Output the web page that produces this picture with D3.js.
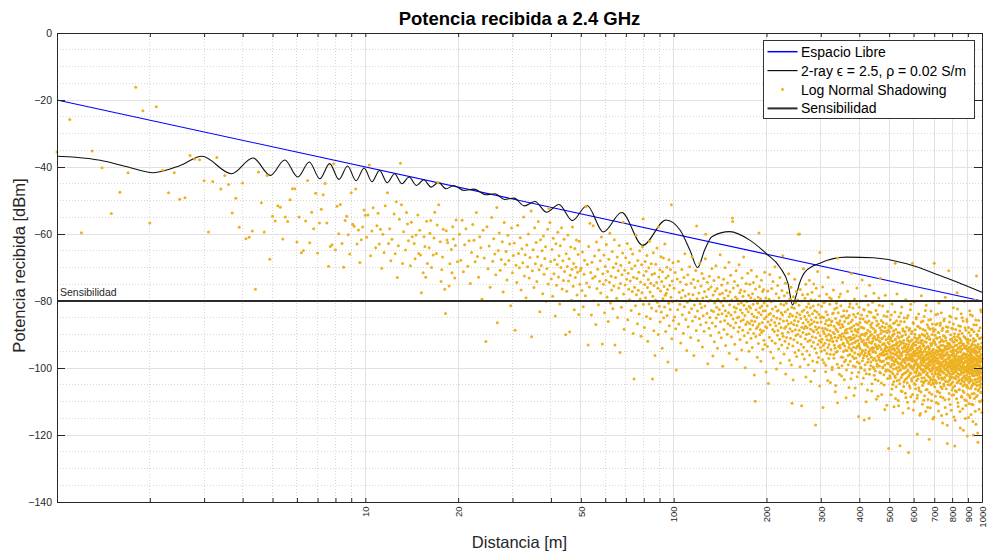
<!DOCTYPE html>
<html>
<head>
<meta charset="utf-8">
<script src="https://cdn.jsdelivr.net/npm/d3@7"></script>
<style>
  body { margin: 0; background: #fff; }
  svg { display: block; }
  text { font-family: "Liberation Sans", Arial, Helvetica, sans-serif; }
</style>
</head>
<body>
<div id="chart"></div>
<script>
// ---- data (distance in m, received power in dBm) ----
const xTickValues = [10, 20, 50, 100, 200, 300, 400, 500, 600, 700, 800, 900, 1000];
const yTickValues = [0, -20, -40, -60, -80, -100, -120, -140];

const freeSpace = [[1, -20], [1000, -80]];
const sensitivityDb = -80;

// 2-ray curve, peaks and troughs
const twoRay = [[1,-36.8],[1.15,-37.1],[1.38,-38.0],[1.7,-40.0],[2.05,-41.7],[2.5,-39.6],[2.95,-36.8],[3.68,-42.0],[4.32,-37.3],[4.92,-42.5],
  [5.48,-37.9],[6.04,-43.0],[6.58,-38.5],[7.12,-43.5],[7.66,-39.0],[8.21,-43.7],[8.76,-39.7],[9.33,-44.1],[9.91,-40.3],[10.51,-44.4],
  [11.12,-41.0],[11.77,-44.7],[12.44,-42.0],[13.14,-45.0],[13.87,-43.0],[14.65,-45.5],[15.47,-43.8],[16.34,-46.0],[17.27,-44.6],[18.27,-46.5],
  [19.35,-45.5],[20.9,-47.0],[22.5,-46.6],[24.68,-48.3],[26.37,-48.0],[28.25,-49.7],[30.36,-49.3],[32.76,-51.6],[35.51,-50.3],[38.7,-53.5],
  [42.45,-51.2],[46.92,-56.0],[52.37,-51.5],[59.14,-59.4],[67.82,-53.6],[79.36,-63.4],[94.5,-55.8],[105,-58.9],[113,-64.9],[119.6,-70.0],
  [126,-64.8],[133,-60.8],[152,-59.3],[177,-61.9],[200,-65.9],[221,-69.9],[235,-74.8],[243,-81.2],[250.7,-77.7],[256,-74.7],
  [267,-71.3],[298,-68.7],[364,-66.9],[444,-67.1],[570,-68.9],[731,-72.4],[1000,-77.4]];

// log normal shadowing samples, by distance band
const shadow1to10 = [[1.0,-35.5],[1.1,-25.8],[1.2,-59.6],[1.3,-35.2],[1.4,-40.2],[1.5,-53.9],[1.6,-47.5],[1.7,-41.7],[1.8,-16.2],[1.9,-23.2],
  [2.0,-56.7],[2.1,-22.0],[2.2,-41.0],[2.3,-47.7],[2.4,-41.7],[2.5,-49.6],[2.6,-49.2],[2.7,-36.6],[2.8,-37.6],[2.9,-37.8],
  [3.0,-44.1],[3.1,-59.4],[3.2,-44.3],[3.3,-37.2],[3.4,-46.6],[3.5,-42.5],[3.6,-45.2],[3.7,-53.7],[3.8,-49.3],[3.9,-58.0],
  [4.0,-44.8],[4.1,-61.4],[4.2,-61.0],[4.3,-59.1],[4.4,-76.5],[4.5,-41.5],[4.6,-50.7],[4.7,-59.4],[4.8,-42.5],[4.9,-67.5],
  [5.0,-54.7],[5.1,-56.1],[5.2,-51.6],[5.3,-52.0],[5.4,-61.5],[5.5,-54.9],[5.6,-56.3],[5.7,-49.8],[5.8,-46.5],[5.9,-46.5],
  [6.0,-62.4],[6.1,-54.9],[6.2,-65.6],[6.3,-64.9],[6.4,-56.1],[6.5,-44.0],[6.6,-62.6],[6.7,-53.5],[6.8,-58.4],[6.9,-47.8],
  [7.0,-65.7],[7.1,-56.7],[7.2,-52.6],[7.3,-48.3],[7.4,-44.9],[7.5,-56.7],[7.6,-69.6],[7.7,-63.7],[7.8,-63.2],[7.9,-39.0],
  [8.0,-64.7],[8.1,-51.7],[8.2,-59.9],[8.3,-51.2],[8.4,-62.8],[8.5,-69.9],[8.6,-56.0],[8.7,-54.7],[8.8,-60.2],[8.9,-66.0],
  [9.0,-47.7],[9.1,-57.1],[9.2,-57.7],[9.3,-46.6],[9.4,-63.0],[9.5,-58.8],[9.6,-68.5],[9.7,-61.7],[9.8,-57.9],[9.9,-52.8]];

const shadow10to20 = [[10.0,-54.4],[10.1,-61.0],[10.2,-54.3],[10.3,-39.4],[10.4,-66.5],[10.5,-59.1],[10.6,-52.2],[10.8,-64.1],[10.9,-57.5],[11.0,-53.8],
  [11.1,-63.0],[11.2,-58.6],[11.3,-70.2],[11.4,-60.1],[11.5,-65.5],[11.6,-51.6],[11.8,-47.7],[11.9,-62.8],[12.0,-58.4],[12.1,-68.0],
  [12.2,-61.6],[12.4,-54.0],[12.5,-65.9],[12.6,-50.4],[12.7,-73.0],[12.8,-63.5],[12.9,-55.6],[13.0,-38.9],[13.1,-51.3],[13.2,-68.8],
  [13.3,-59.3],[13.5,-64.8],[13.6,-53.6],[13.7,-57.0],[13.8,-62.0],[14.0,-69.5],[14.1,-56.5],[14.2,-60.8],[14.4,-62.8],[14.5,-67.4],
  [14.6,-60.3],[14.8,-54.3],[14.9,-65.8],[15.0,-58.9],[15.1,-66.3],[15.2,-77.5],[15.4,-71.6],[15.5,-60.8],[15.6,-63.7],[15.7,-72.9],
  [15.8,-56.2],[15.9,-68.8],[16.1,-64.1],[16.2,-59.8],[16.3,-56.0],[16.4,-70.0],[16.6,-66.3],[16.7,-61.2],[16.8,-53.5],[17.0,-65.8],
  [17.1,-57.3],[17.2,-44.6],[17.3,-51.3],[17.5,-62.3],[17.6,-74.2],[17.7,-70.7],[17.8,-66.9],[17.9,-58.6],[18.1,-76.5],[18.2,-83.7],
  [18.3,-59.0],[18.4,-61.8],[18.5,-62.6],[18.7,-75.5],[18.8,-68.9],[19.0,-64.6],[19.1,-71.6],[19.2,-57.8],[19.3,-61.5],[19.5,-73.1],
  [19.6,-63.4],[19.7,-55.8],[19.9,-68.3]];

const shadow20to50 = [[20.2,-60.1],[20.4,-67.8],[20.6,-55.9],[20.8,-71.3],[21.0,-63.2],[21.2,-58.4],[21.5,-69.6],[21.7,-62.0],[21.9,-74.8],[22.1,-65.5],
  [22.3,-57.2],[22.5,-61.9],[22.7,-68.3],[22.9,-53.6],[23.1,-66.7],[23.3,-72.9],[23.5,-60.8],[23.7,-64.1],[23.9,-79.5],[24.1,-58.9],
  [24.3,-67.2],[24.6,-92.1],[24.8,-57.8],[25.0,-70.4],[25.2,-63.6],[25.4,-75.9],[25.7,-55.1],[25.9,-68.1],[26.1,-61.4],[26.3,-66.0],
  [26.5,-72.2],[26.7,-52.1],[26.8,-86.5],[27.0,-64.9],[27.2,-59.7],[27.4,-70.8],[27.6,-67.6],[27.8,-62.3],[28.0,-77.3],[28.2,-56.6],
  [28.4,-69.0],[28.6,-65.2],[28.8,-73.7],[29.0,-60.4],[29.2,-67.9],[29.4,-63.0],[29.6,-81.4],[29.8,-58.2],[30.0,-71.6],[30.2,-66.4],
  [30.4,-62.7],[30.6,-88.7],[30.8,-69.3],[31.0,-74.5],[31.2,-57.4],[31.4,-65.8],[31.6,-70.1],[31.8,-61.1],[32.0,-76.7],[32.2,-64.4],
  [32.4,-68.6],[32.6,-54.9],[32.8,-72.5],[33.0,-66.2],[33.2,-79.0],[33.4,-63.3],[33.6,-69.8],[33.8,-60.0],[34.0,-73.1],[34.2,-67.0],
  [34.5,-53.1],[34.6,-90.7],[34.8,-71.0],[35.0,-64.7],[35.2,-76.0],[35.4,-58.1],[35.6,-68.9],[35.8,-62.5],[36.0,-74.2],[36.2,-66.8],
  [36.4,-56.3],[36.6,-70.7],[36.8,-83.2],[37.0,-61.7],[37.2,-69.4],[37.4,-65.0],[37.6,-77.8],[37.8,-60.6],[38.0,-72.0],[38.2,-67.3],
  [38.4,-63.8],[38.6,-80.1],[38.8,-70.3],[39.0,-58.6],[39.2,-74.9],[39.4,-52.3],[39.7,-56.6],[39.9,-68.2],[40.1,-73.4],[40.3,-64.6],
  [40.5,-78.6],[40.7,-61.3],[40.9,-71.9],[41.1,-67.7],[41.3,-84.5],[41.5,-62.9],[41.7,-75.3],[41.9,-69.1],[42.1,-59.5],[42.3,-72.8],
  [42.5,-66.5],[42.7,-80.9],[42.9,-63.5],[43.1,-70.0],[43.3,-58.1],[43.5,-76.4],[43.7,-68.0],[43.9,-73.9],[44.1,-61.6],[44.3,-71.2],
  [44.6,-90.1],[44.8,-65.9],[45.0,-77.1],[45.2,-69.7],[45.4,-60.3],[45.6,-74.0],[45.8,-67.4],[46.0,-89.2],[46.2,-72.3],[46.4,-63.9],
  [46.6,-79.8],[46.8,-70.5],[47.0,-57.9],[47.2,-75.6],[47.4,-68.8],[47.6,-82.6],[47.8,-64.3],[48.0,-73.0],[48.2,-69.9],[48.4,-61.8],
  [48.6,-78.2],[48.8,-71.4],[49.0,-66.1],[49.2,-84.0],[49.4,-62.2],[49.6,-75.0],[49.8,-70.9]];

const shadow50to100 = [[50.1,-70.2],[50.4,-76.9],[50.6,-65.4],[50.9,-81.7],[51.2,-72.0],[51.4,-67.8],[51.7,-78.4],[52.0,-51.8],[52.2,-74.6],[52.5,-69.1],
  [52.8,-93.1],[53.0,-63.7],[53.3,-75.8],[53.5,-56.8],[53.8,-71.5],[54.1,-84.2],[54.3,-68.4],[54.6,-73.2],[54.8,-57.5],[55.1,-79.9],
  [55.4,-66.6],[55.6,-72.7],[55.9,-87.0],[56.2,-62.4],[56.4,-76.3],[56.7,-70.5],[57.0,-81.1],[57.2,-64.8],[57.5,-74.1],[57.8,-68.0],
  [58.0,-77.6],[58.3,-60.9],[58.7,-92.8],[58.9,-71.9],[59.2,-75.0],[59.4,-66.3],[59.7,-83.5],[60.0,-69.7],[60.3,-73.8],[60.5,-63.1],
  [60.8,-78.8],[61.1,-71.2],[61.3,-86.1],[61.6,-67.5],[61.9,-74.4],[62.1,-59.8],[62.4,-80.6],[62.7,-72.6],[62.9,-76.7],[63.2,-65.2],
  [63.5,-82.3],[63.7,-70.0],[64.0,-75.5],[64.2,-61.7],[64.5,-93.1],[64.8,-73.0],[65.0,-68.8],[65.3,-79.2],[65.6,-66.9],[65.8,-84.9],
  [66.1,-71.0],[66.4,-76.1],[66.6,-63.4],[67.0,-95.4],[67.2,-74.8],[67.4,-69.3],[67.7,-81.9],[68.0,-72.2],[68.3,-65.7],[68.6,-56.5],
  [68.8,-77.9],[69.1,-88.4],[69.4,-70.8],[69.6,-75.2],[69.9,-67.1],[70.2,-80.0],[70.4,-73.5],[70.7,-62.8],[71.0,-85.6],[71.2,-71.7],
  [71.5,-76.5],[71.8,-68.5],[72.0,-79.6],[72.3,-74.0],[72.6,-64.5],[72.8,-82.8],[73.1,-70.4],[73.4,-77.2],[73.6,-66.0],[73.9,-89.7],
  [74.1,-72.9],[74.4,-103.3],[74.7,-75.9],[74.9,-69.5],[75.2,-81.4],[75.5,-60.4],[75.7,-78.1],[76.0,-73.3],[76.3,-86.8],[76.5,-67.9],
  [76.8,-76.8],[77.1,-71.4],[77.3,-83.9],[77.6,-65.0],[77.9,-79.4],[78.1,-74.3],[78.4,-90.5],[78.7,-69.2],[78.9,-77.5],[79.2,-63.9],
  [79.6,-55.5],[79.8,-81.0],[80.0,-72.4],[80.3,-87.9],[80.6,-75.1],[80.8,-68.2],[81.1,-79.0],[81.4,-71.1],[81.6,-84.6],[81.9,-66.4],
  [82.2,-76.0],[82.4,-92.0],[82.7,-73.6],[83.0,-70.1],[83.2,-80.9],[83.5,-62.2],[83.8,-77.3],[84.0,-85.3],[84.3,-74.7],[84.6,-68.9],
  [84.8,-82.1],[85.1,-72.1],[85.4,-103.3],[85.6,-78.6],[85.9,-65.6],[86.2,-88.9],[86.4,-75.4],[86.7,-71.8],[87.0,-96.3],[87.3,-79.7],
  [87.5,-69.0],[87.8,-83.0],[88.1,-74.5],[88.3,-64.2],[88.6,-80.4],[88.9,-76.2],[89.1,-90.0],[89.3,-57.8],[89.6,-72.8],[89.9,-81.6],
  [90.2,-70.7],[90.4,-86.2],[90.7,-77.0],[91.0,-66.8],[91.2,-83.3],[91.5,-74.2],[91.8,-94.1],[92.0,-71.3],[92.3,-79.3],[92.6,-67.2],
  [92.8,-85.0],[93.1,-75.7],[93.4,-81.8],[93.6,-63.0],[93.9,-78.3],[94.2,-89.1],[94.4,-73.1],[94.7,-77.7],[95.0,-69.9],[95.2,-84.3],
  [95.5,-76.6],[95.8,-98.2],[96.0,-72.5],[96.3,-80.7],[96.6,-67.7],[96.8,-87.4],[97.1,-75.3],[97.4,-82.5],[97.6,-70.6],[98.0,-78.9],
  [98.3,-51.3],[98.6,-91.3],[98.9,-74.0],[99.2,-80.2],[99.5,-68.6],[99.8,-85.8]];

const shadow100to200 = [[100.3,-76.2],[100.7,-84.8],[101.1,-71.5],[101.5,-88.3],[102.0,-100.6],[102.3,-79.9],[102.7,-73.4],[103.1,-82.6],[103.5,-68.1],[103.9,-86.9],
  [104.3,-77.4],[104.7,-81.0],[105.1,-74.3],[105.5,-92.5],[105.9,-79.0],[106.3,-70.6],[106.7,-84.1],[107.1,-76.8],[107.5,-89.6],[107.9,-73.0],
  [108.3,-81.7],[108.7,-65.9],[109.1,-78.5],[109.5,-85.5],[109.9,-75.1],[110.3,-94.8],[110.7,-80.4],[111.1,-72.2],[111.5,-87.7],[111.9,-77.9],
  [112.3,-83.4],[112.7,-69.8],[113.1,-79.6],[113.5,-90.9],[113.9,-74.7],[114.3,-82.3],[114.7,-66.8],[115.1,-86.0],[115.5,-78.1],[115.9,-73.6],
  [116.3,-96.3],[116.7,-81.2],[117.1,-76.0],[117.5,-84.7],[117.9,-70.9],[118.3,-88.8],[118.7,-57.6],[119.1,-79.3],[119.5,-83.0],[119.9,-74.0],
  [120.3,-91.8],[120.7,-77.6],[121.1,-85.2],[121.5,-68.7],[121.9,-80.8],[122.3,-87.1],[122.7,-75.5],[123.1,-82.0],[123.5,-71.8],[123.9,-93.7],
  [124.3,-79.1],[124.7,-84.4],[125.1,-73.3],[125.5,-89.0],[125.9,-77.2],[126.3,-81.5],[126.7,-67.4],[127.0,-60.1],[127.4,-86.4],[127.8,-78.7],
  [128.2,-83.7],[128.6,-74.4],[129.0,-98.7],[129.4,-80.1],[129.8,-76.5],[130.2,-88.1],[130.6,-72.6],[131.0,-84.9],[131.4,-79.8],[131.8,-90.3],
  [132.2,-75.8],[132.6,-82.8],[133.0,-70.3],[133.4,-86.6],[134.0,-96.4],[134.3,-78.2],[134.7,-83.1],[135.1,-73.9],[135.5,-92.2],[135.9,-80.6],
  [136.3,-77.0],[136.7,-87.5],[137.1,-69.5],[137.5,-85.1],[137.9,-81.9],[138.3,-76.3],[138.7,-94.1],[139.1,-79.5],[139.5,-84.0],[139.9,-72.9],
  [140.3,-89.4],[140.7,-82.5],[141.1,-78.0],[141.5,-66.2],[141.9,-86.2],[142.3,-80.3],[142.7,-91.0],[143.1,-75.2],[143.5,-83.8],[143.9,-77.7],
  [144.3,-99.5],[144.7,-81.4],[145.1,-73.5],[145.5,-88.5],[145.9,-79.2],[146.3,-85.8],[146.7,-70.1],[147.1,-82.9],[147.5,-93.3],[147.9,-76.9],
  [148.3,-84.5],[148.7,-80.0],[149.1,-89.9],[149.5,-74.6],[149.9,-86.8],[150.3,-78.4],[150.7,-83.5],[151.1,-68.4],[151.5,-95.6],[151.9,-81.1],
  [152.3,-77.3],[152.7,-87.3],[153.1,-72.3],[153.5,-84.2],[153.9,-90.7],[154.3,-79.7],[155.0,-55.2],[155.4,-56.3],[155.8,-85.4],[156.2,-76.1],
  [156.6,-88.0],[157.0,-81.8],[157.4,-74.2],[157.8,-92.9],[158.2,-83.3],[158.6,-78.8],[159.0,-86.5],[159.4,-71.0],[159.8,-82.2],[160.2,-97.4],
  [160.6,-79.4],[161.0,-85.0],[161.4,-75.4],[161.8,-89.2],[162.2,-80.9],[162.6,-84.8],[163.0,-69.2],[163.4,-87.8],[163.8,-77.5],[164.2,-91.5],
  [164.6,-82.7],[165.0,-76.7],[165.4,-86.0],[165.8,-80.5],[166.2,-94.6],[166.6,-73.1],[167.0,-83.6],[167.4,-88.7],[167.8,-78.6],[168.2,-85.6],
  [168.6,-66.9],[169.0,-81.3],[169.4,-90.4],[169.8,-77.1],[170.2,-84.3],[170.6,-99.9],[171.0,-79.9],[171.4,-87.0],[171.8,-74.8],[172.2,-82.4],
  [172.6,-92.4],[173.0,-80.2],[173.4,-86.3],[173.8,-71.7],[174.2,-89.5],[174.6,-83.2],[175.0,-78.3],[175.4,-95.0],[175.8,-81.6],[176.2,-86.7],
  [176.6,-75.0],[177.0,-88.4],[177.4,-82.1],[177.8,-79.0],[178.2,-91.1],[178.6,-70.8],[179.0,-85.9],[179.4,-83.9],[179.8,-93.9],[180.2,-77.8],
  [180.6,-87.2],[181.0,-81.0],[181.4,-74.5],[181.8,-89.7],[182.2,-84.6],[182.6,-102.1],[183.0,-79.6],[183.4,-86.1],[184.0,-109.9],[184.3,-76.4],
  [184.7,-90.6],[185.1,-82.6],[185.5,-88.2],[185.9,-72.7],[186.3,-84.9],[186.7,-96.8],[187.1,-80.7],[187.5,-87.6],[187.9,-78.9],[188.3,-92.7],
  [188.7,-83.4],[189.0,-59.7],[189.4,-86.9],[189.8,-75.7],[190.2,-90.1],[190.6,-82.0],[191.0,-88.6],[191.4,-79.4],[191.8,-98.0],[192.2,-84.1],
  [192.6,-73.8],[193.0,-89.3],[193.4,-81.5],[193.8,-86.4],[194.2,-77.2],[194.6,-94.4],[195.0,-83.0],[195.4,-88.9],[195.8,-76.6],[196.2,-91.7],
  [196.6,-80.6],[197.0,-85.3],[197.4,-71.4],[197.8,-93.0],[198.2,-82.9],[198.6,-87.7],[199.0,-79.1],[199.4,-101.2],[199.8,-84.7]];

const shadow200to300 = [[200.5,-88.0],[201,-81.4],[201.5,-93.6],[202,-77.0],[202.5,-86.2],[203,-104.6],[203.5,-84.0],[204,-79.5],[204.5,-90.8],[205,-72.1],
  [205.5,-87.1],[206,-83.7],[206.5,-95.2],[207,-80.2],[207.5,-85.7],[208,-76.3],[208.5,-91.9],[209,-82.4],[209.5,-88.5],[210,-74.2],
  [210.5,-97.0],[211,-84.5],[211.5,-79.9],[212,-89.1],[212.5,-86.4],[213,-69.8],[213.5,-92.6],[214,-81.7],[214.5,-87.4],[215,-77.8],
  [215.5,-100.3],[216,-85.1],[216.5,-83.0],[217,-90.2],[217.5,-75.4],[218,-88.8],[218.5,-82.8],[219,-94.3],[219.5,-79.0],[220,-86.7],
  [220.5,-91.4],[221,-73.0],[221.5,-85.4],[222,-98.5],[222.5,-80.9],[223,-87.9],[223.5,-83.5],[224,-93.1],[224.5,-76.9],[225,-89.6],
  [225.5,-84.2],[226,-66.5],[226.5,-90.5],[227,-86.0],[227.5,-81.2],[228,-95.8],[228.5,-78.4],[229,-88.1],[229.5,-92.0],[230,-83.2],
  [230.5,-74.7],[231,-101.8],[231.5,-87.6],[232,-80.7],[232.5,-90.9],[233,-85.9],[233.5,-77.5],[234,-94.0],[234.5,-82.5],[235,-89.3],
  [235.5,-86.9],[236,-71.9],[236.5,-92.8],[237,-84.7],[237.5,-97.7],[238,-79.4],[238.5,-88.3],[239,-83.9],[239.5,-91.1],[240,-75.9],
  [240.5,-86.5],[241,-99.1],[241.5,-81.9],[242,-110.5],[242.5,-89.0],[243,-84.4],[243.5,-93.4],[244,-103.6],[244.5,-78.7],[245,-87.0],
  [245.5,-91.6],[246,-82.2],[246.5,-85.8],[247,-73.5],[247.5,-95.4],[248,-88.6],[248.5,-80.5],[249,-90.3],[249.5,-84.8],[250,-77.2],
  [250.5,-96.6],[251,-87.3],[251.5,-83.6],[252,-92.4],[252.5,-79.7],[253,-89.9],[253.5,-86.1],[254,-60.1],[254.5,-94.7],[255,-81.3],
  [255.5,-88.7],[256,-60.0],[256.5,-84.1],[257,-99.6],[257.5,-76.6],[258,-90.6],[258.5,-85.2],[259,-92.9],[259.5,-80.0],[260,-111.3],
  [260.5,-87.8],[261,-83.1],[261.5,-95.9],[262,-78.1],[262.5,-89.4],[263,-86.6],[263.5,-70.4],[264,-93.8],[264.5,-82.7],[265,-88.2],
  [265.5,-97.3],[266,-84.6],[266.5,-79.2],[267,-91.3],[267.5,-87.5],[268,-75.0],[268.5,-102.7],[269,-85.5],[269.5,-90.0],[270,-81.8],
  [270.5,-94.9],[271,-88.0],[271.5,-83.4],[272,-78.0],[272.5,-92.1],[273,-86.3],[273.5,-99.0],[274,-80.8],[274.5,-89.8],[275,-84.3],
  [275.5,-73.8],[276,-96.1],[276.5,-87.2],[277,-91.7],[277.5,-82.0],[278,-88.4],[278.5,-104.0],[279,-79.6],[279.5,-85.6],[280,-93.5],
  [280.5,-86.8],[281,-77.4],[281.5,-90.7],[282,-83.8],[282.5,-97.9],[283,-88.9],[283.5,-81.5],[284,-92.3],[284.5,-74.9],[285,-89.2],
  [285.5,-86.2],[286,-100.8],[286.5,-82.9],[287,-94.2],[287.5,-79.8],[288,-87.7],[288.6,-117.0],[289,-91.0],[289.5,-84.9],[290,-76.2],
  [290.5,-95.5],[291,-88.5],[291.5,-83.3],[292,-98.3],[292.5,-86.4],[293,-71.2],[293.5,-93.0],[294,-89.5],[294.5,-81.1],[295,-96.9],
  [295.5,-87.9],[296,-84.0],[296.5,-91.8],[297,-78.5],[297.5,-105.4],[298,-65.5],[298.5,-90.4],[299,-85.0],[299.5,-93.9]];

const shadow300to500 = [[300.5,-86.3],[301.3,-95.0],[302,-81.6],[302.8,-91.4],[303.5,-88.1],[304.3,-75.8],[305,-111.8],[305.8,-93.3],[306.5,-84.9],[307.3,-98.4],
  [308,-89.7],[308.8,-80.3],[309.5,-92.6],[310.3,-86.8],[311,-101.1],[311.8,-83.2],[312.5,-90.5],[313.3,-78.0],[314,-95.7],[314.8,-88.6],
  [315.5,-84.1],[316.3,-93.9],[317,-72.9],[317.8,-90.0],[318.5,-97.2],[319.3,-85.5],[320,-91.8],[320.8,-81.0],[321.5,-88.9],[322.3,-104.3],
  [323,-87.2],[323.8,-94.5],[324.5,-79.3],[325.3,-91.1],[326,-86.0],[326.8,-99.8],[327.5,-83.8],[328.3,-92.2],[329,-89.4],[329.8,-76.7],
  [330.5,-96.0],[331.3,-87.5],[332,-93.2],[332.8,-82.4],[333.5,-90.8],[334.3,-107.1],[335,-85.2],[335.8,-88.3],[336.5,-95.3],[337.3,-80.7],
  [338,-91.9],[338.8,-86.5],[339.5,-98.9],[340,-110.4],[340.3,-67.2],[341,-89.1],[341.8,-83.5],[342.5,-93.6],[343.3,-87.0],[344,-78.8],
  [344.8,-101.9],[345.5,-90.2],[346.3,-85.9],[347,-94.0],[347.8,-88.0],[348.5,-81.4],[349.3,-96.7],[350,-91.5],[350.8,-84.6],[351.5,-99.3],
  [352.3,-89.8],[353,-74.5],[353.8,-92.9],[354.5,-87.7],[355.3,-95.1],[356,-82.9],[356.8,-90.6],[357.5,-103.5],[358.3,-86.1],[359,-93.4],
  [359.8,-79.9],[360.5,-88.8],[361.3,-97.6],[362,-91.2],[362.8,-85.1],[363.5,-100.6],[364.3,-83.0],[365,-94.8],[365.8,-89.5],[366.5,-77.1],
  [367.3,-92.4],[368,-96.3],[368.8,-86.7],[369.5,-90.9],[370.3,-105.8],[371,-84.3],[371.8,-93.0],[372.5,-88.2],[373.3,-80.8],[374,-98.0],
  [374.8,-91.6],[375.5,-86.3],[376.3,-94.4],[377,-71.8],[377.8,-89.0],[378.5,-101.4],[379.3,-92.7],[380,-85.7],[380.8,-96.6],[381.5,-82.1],
  [382.3,-90.1],[383,-93.8],[383.8,-87.4],[384.5,-108.2],[385.3,-91.0],[386,-79.4],[386.8,-95.5],[387.5,-88.5],[388.3,-99.6],[389,-84.8],
  [389.8,-92.0],[390.5,-97.0],[391.3,-86.9],[392,-90.4],[392.8,-76.1],[393.5,-102.6],[394.3,-93.5],[395,-89.3],[395.8,-83.7],[396.5,-95.9],
  [397.3,-88.4],[398,-114.5],[398.8,-92.8],[399.5,-81.9],[400.3,-98.6],[401,-90.7],[401.8,-86.4],[402.5,-94.2],[403.3,-80.0],[404,-91.3],
  [404.8,-100.1],[405.5,-87.8],[406.3,-95.6],[407,-84.2],[407.8,-92.1],[408.5,-73.7],[409.3,-97.8],[410,-89.9],[410.8,-94.9],[411.5,-85.4],
  [412.3,-103.0],[413,-91.7],[413.8,-88.1],[414.5,-96.2],[415,-115.5],[415.5,-82.7],[416.3,-93.1],[417,-90.3],[417.8,-99.0],[418.5,-86.2],
  [419.3,-94.6],[420,-78.5],[420.8,-92.5],[421.5,-101.7],[422.3,-89.6],[423,-96.5],[423.8,-84.5],[424.5,-91.4],[425.3,-106.6],[426,-88.7],
  [426.8,-93.7],[427.5,-81.2],[428.3,-97.4],[429,-90.8],[429.8,-86.0],[430.5,-95.0],[431,-115.0],[431.3,-92.3],[432,-75.3],[432.8,-100.4],
  [433.5,-89.2],[434.3,-94.3],[435,-87.1],[435.8,-98.2],[436.5,-83.4],[437.3,-92.6],[438,-96.8],[438.8,-90.0],[439.5,-104.7],[440.3,-86.6],
  [441,-93.9],[441.8,-80.4],[442.5,-95.2],[443.3,-91.1],[444,-99.7],[444.8,-88.3],[445.5,-94.0],[446.3,-77.7],[447,-102.2],[447.8,-90.6],
  [448.5,-97.1],[449.3,-85.0],[450,-92.9],[450.8,-100.9],[451.5,-88.9],[452.3,-95.4],[453,-82.8],[453.8,-93.6],[454.5,-109.3],[455.3,-91.5],
  [456,-87.3],[456.8,-98.8],[457.5,-94.1],[458.3,-84.0],[459,-96.4],[459.8,-90.2],[460.5,-103.8],[461.3,-86.9],[462,-93.3],[462.8,-79.1],
  [463.5,-97.5],[464.3,-91.9],[465,-99.4],[465.8,-88.0],[466.5,-95.8],[467.3,-92.2],[468,-73.2],[468.8,-101.5],[469.5,-89.7],[470.3,-96.1],
  [471,-85.8],[471.8,-94.5],[472.5,-107.9],[473.3,-91.2],[474,-98.1],[474.8,-87.6],[475.5,-93.0],[476.3,-81.5],[477,-100.0],[477.8,-95.3],
  [478.5,-89.1],[479.3,-97.9],[480,-92.7],[480.8,-84.4],[481.5,-105.1],[482.3,-94.8],[483,-90.5],[483.8,-99.1],[484.5,-87.9],[485.3,-96.0],
  [486,-78.3],[486.8,-93.4],[487.5,-101.0],[488.3,-91.6],[489,-97.3],[489.8,-86.8],[490.5,-95.0],[491.3,-111.1],[492,-89.4],[492.8,-98.5],
  [493.5,-93.9],[494.3,-83.1],[495,-100.7],[495.8,-92.4],[496.5,-96.7],[497.3,-88.6],[498,-124.0],[498.8,-94.6],[499.5,-90.6],
  [300.9,-92.3],[302.4,-84.7],[303.9,-97.5],[305.4,-89.0],[306.9,-80.5],[308.4,-94.6],[309.9,-88.2],[311.4,-99.2],[312.9,-85.8],[314.4,-91.6],
  [315.9,-103.7],[317.4,-87.3],[318.9,-93.0],[320.4,-79.0],[321.9,-95.9],[323.4,-90.4],[324.9,-86.2],[326.4,-100.5],[327.9,-92.0],[329.4,-83.6],
  [330.9,-97.1],[332.4,-89.8],[333.9,-94.1],[335.4,-105.2],[336.9,-88.6],[338.4,-82.0],[339.9,-95.0],[341.4,-91.0],[342.9,-99.9],[344.4,-86.7],
  [345.9,-93.3],[347.4,-77.9],[348.9,-90.6],[350.4,-102.4],[351.9,-87.0],[353.4,-96.8],[354.9,-92.6],[356.4,-84.4],[357.9,-98.1],[359.4,-89.5],
  [360.9,-94.7],[362.4,-108.9],[363.9,-88.4],[365.4,-91.9],[366.9,-85.0],[368.4,-99.0],[369.9,-93.9],[371.4,-81.7],[372.9,-96.0],[374.4,-90.8],
  [375.9,-103.2],[377.4,-87.9],[378.9,-94.9],[380.4,-91.3],[381.9,-99.4],[383.4,-84.0],[384.9,-97.2],[386.4,-92.4],[387.9,-106.0],[389.4,-88.9],
  [390.9,-94.0],[392.4,-80.9],[393.9,-98.2],[395.4,-91.8],[396.9,-87.2],[398.4,-101.3],[399.9,-93.6],[401.4,-96.3],[402.9,-85.3],[404.4,-99.8],
  [405.9,-90.1],[407.4,-104.8],[408.9,-94.8],[410.4,-88.0],[411.9,-97.0],[413.4,-82.5],[414.9,-92.7],[416.4,-100.7],[417.9,-95.5],[419.4,-89.6],
  [420.9,-110.1],[422.4,-93.2],[423.9,-86.5],[425.4,-98.3],[426.9,-91.5],[428.4,-95.7],[429.9,-83.2],[431.4,-101.9],[432.9,-96.0],[434.4,-90.3],
  [435.9,-99.3],[437.4,-87.8],[438.9,-106.9],[440.4,-94.5],[441.9,-92.0],[443.4,-97.6],[444.9,-84.8],[446.4,-100.2],[447.9,-95.1],[449.4,-89.3],
  [450.9,-103.4],[452.4,-91.4],[453.9,-97.8],[455.4,-86.0],[456.9,-99.5],[458.4,-94.3],[459.9,-108.4],[461.4,-90.9],[462.9,-96.9],[464.4,-81.3],
  [465.9,-101.2],[467.4,-93.7],[468.9,-98.0],[470.4,-88.7],[471.9,-104.5],[473.4,-95.6],[474.9,-91.1],[476.4,-99.7],[477.9,-86.4],[479.4,-96.2],
  [480.9,-102.0],[482.4,-92.8],[483.9,-112.4],[485.4,-94.2],[486.9,-89.0],[488.4,-100.6],[489.9,-97.1],[491.4,-84.6],[492.9,-95.8],[494.4,-103.1],
  [495.9,-91.2],[497.4,-98.7],[498.9,-87.5]];

const shadow500to700 = [[500.8,-97.0],[501.6,-89.2],[502.5,-102.3],[503.3,-93.8],[504.1,-85.6],[505,-99.5],[505.8,-91.7],[506.6,-108.0],[507.5,-95.6],[508.3,-88.0],
  [509.1,-101.2],[510,-94.4],[510.8,-80.9],[511.6,-97.7],[512.5,-92.0],[513.3,-104.9],[514.1,-90.1],[515,-96.8],[515.8,-86.7],[516.6,-100.3],
  [517.5,-93.2],[518.3,-111.6],[519.1,-89.8],[520,-98.1],[520.8,-94.7],[521.6,-83.3],[523,-68.7],[523.3,-102.8],[524.1,-91.4],[525,-97.4],
  [525.8,-88.5],[526.6,-105.6],[527.5,-95.9],[528.3,-92.6],[529.1,-99.9],[530,-77.9],[530.8,-94.1],[531.6,-101.8],[532.5,-90.6],[533.3,-96.5],
  [534.1,-87.2],[535,-109.7],[535.8,-93.5],[536.6,-98.8],[537.5,-91.0],[538.3,-84.7],[539.1,-103.6],[540,-95.2],[540.8,-89.5],[542,-123.2],
  [542.5,-97.2],[543.3,-93.0],[544.1,-100.6],[545,-86.1],[545.8,-96.2],[546.6,-106.9],[547.5,-92.3],[548.3,-99.2],[549.1,-81.8],[550,-95.5],
  [550.8,-102.1],[551.6,-90.4],[552.5,-97.9],[553.3,-94.0],[554.1,-113.4],[555,-88.9],[555.8,-100.0],[556.6,-95.0],[557.5,-91.8],[558.3,-104.2],
  [559.1,-85.0],[560,-97.6],[560.8,-93.4],[561.6,-101.5],[562.5,-89.1],[563.3,-98.4],[564.1,-107.5],[565,-94.8],[565.8,-79.6],[566.6,-99.7],
  [567.5,-92.9],[568.3,-96.9],[569.1,-103.1],[570,-87.8],[570.8,-95.3],[571.6,-100.9],[572.5,-91.3],[573.3,-110.2],[574.1,-97.1],[575,-93.7],
  [575.8,-84.3],[576.6,-102.6],[578,-125.2],[578.3,-96.0],[579.1,-90.7],[580,-99.0],[580.8,-94.5],[581.6,-105.3],[582.5,-88.2],[583.3,-97.5],
  [584.1,-92.1],[585,-101.4],[585.8,-82.6],[586.6,-96.6],[587.5,-108.6],[588.3,-93.9],[589.1,-99.3],[590,-89.7],[590.8,-95.8],[591.6,-103.9],
  [592.5,-91.6],[593.3,-98.0],[595,-68.7],[595.8,-94.2],[596.6,-100.4],[597.5,-86.4],[598.3,-97.3],[599.1,-112.5],[600,-92.5],[600.8,-99.6],
  [601.6,-95.1],[602.5,-80.2],[603.3,-104.6],[604.1,-96.3],[605,-90.9],[605.8,-101.1],[606.6,-94.9],[607.5,-88.6],[608.3,-98.7],[609.1,-106.2],
  [610,-93.1],[610.8,-97.8],[611.6,-85.3],[612.5,-102.4],[613.3,-95.7],[614.1,-91.2],[615,-100.2],[615.8,-109.0],[617,-119.7],[617.5,-94.6],
  [618.3,-98.9],[619.1,-87.5],[620,-103.3],[620.8,-96.4],[621.6,-92.4],[622.5,-99.8],[623.3,-83.9],[624.1,-105.9],[625,-95.4],[625.8,-101.6],
  [626.6,-90.3],[627.5,-97.0],[628.3,-114.1],[629.1,-93.6],[630,-99.4],[630.8,-88.1],[631.6,-102.0],[632.5,-96.1],[633.3,-91.9],[634.1,-107.2],
  [635,-94.3],[635.8,-78.4],[636.6,-100.5],[637.5,-97.2],[638.3,-103.0],[639.1,-89.9],[640,-95.9],[640.8,-110.8],[641.6,-92.8],[642.5,-99.1],
  [643.3,-86.0],[644.1,-101.3],[645,-96.7],[645.8,-93.3],[646.6,-104.4],[647.5,-90.2],[648.3,-98.3],[649.1,-84.6],[650,-102.9],[650.8,-95.0],
  [651.6,-108.3],[652.5,-92.2],[653.3,-97.7],[654.1,-100.8],[655,-88.8],[655.8,-96.5],[656.6,-113.0],[657.5,-94.0],[658.3,-99.5],[659.1,-81.3],
  [660,-103.7],[660.8,-96.0],[661.6,-91.1],[662.5,-101.9],[663.3,-97.4],[664.1,-106.4],[665,-87.1],[665.8,-95.2],[666.6,-100.1],[667.5,-93.5],
  [668.3,-109.4],[669.1,-98.6],[670,-90.5],[670.8,-102.5],[671.6,-85.7],[672.5,-96.9],[674,-121.3],[674.1,-99.2],[675,-94.5],[675.8,-104.1],
  [676.6,-91.5],[677.5,-97.6],[678.3,-88.4],[679.1,-101.0],[680,-111.9],[680.8,-95.7],[681.6,-92.7],[682.5,-98.2],[683.3,-83.0],[684.1,-105.0],
  [685,-96.2],[685.8,-100.7],[686.6,-93.0],[687.5,-107.8],[688.3,-90.0],[689.1,-99.9],[690,-95.3],[690.8,-86.9],[691.6,-103.4],[692.5,-97.3],
  [693.3,-115.2],[694.1,-94.4],[695,-100.3],[695.8,-89.0],[696.6,-98.1],[697.5,-104.8],[698.3,-92.0],[699.1,-96.8],
  [500.4,-92.8],[501.4,-100.9],[502.4,-95.1],[503.4,-87.4],[504.4,-103.0],[505.4,-96.6],[506.4,-91.0],[507.4,-99.6],[508.4,-84.2],[509.4,-97.3],
  [510.4,-106.3],[511.4,-93.4],[512.4,-98.9],[513.4,-90.3],[514.4,-101.7],[515.4,-95.7],[516.4,-88.9],[517.4,-104.1],[518.4,-94.2],[519.4,-99.0],
  [520.4,-86.5],[521.4,-102.4],[522.4,-96.0],[523.4,-91.6],[524.4,-109.1],[525.4,-97.8],[526.4,-93.1],[527.4,-100.2],[528.4,-85.9],[529.4,-95.4],
  [530.4,-103.8],[531.4,-92.4],[532.4,-98.3],[533.4,-89.4],[534.4,-101.0],[535.4,-96.9],[536.4,-111.3],[537.4,-94.6],[538.4,-99.8],[539.4,-87.1],
  [540.4,-97.0],[541.4,-104.7],[542.4,-92.0],[543.4,-100.5],[544.4,-95.9],[545.4,-83.6],[546.4,-98.5],[547.4,-102.8],[548.4,-90.7],[549.4,-96.3],
  [550.4,-107.0],[551.4,-94.0],[552.4,-99.4],[553.4,-88.3],[554.4,-101.9],[555.4,-97.4],[556.4,-92.6],[557.4,-105.5],[558.4,-95.0],[559.4,-100.0],
  [560.4,-86.2],[561.4,-98.1],[562.4,-103.5],[563.4,-93.8],[564.4,-97.1],[565.4,-90.0],[566.4,-108.8],[567.4,-96.1],[568.4,-101.3],[569.4,-94.4],
  [570.4,-99.2],[571.4,-85.1],[572.4,-104.4],[573.4,-97.6],[574.4,-91.9],[575.4,-100.7],[576.4,-95.2],[577.4,-112.0],[578.4,-93.0],[579.4,-98.7],
  [580.4,-88.7],[581.4,-102.1],[582.4,-96.8],[583.4,-92.2],[584.4,-106.0],[585.4,-99.6],[586.4,-94.7],[587.4,-81.0],[588.4,-101.6],[589.4,-97.2],
  [590.4,-103.2],[591.4,-93.6],[592.4,-99.9],[593.4,-89.1],[594.4,-96.5],[595.4,-107.9],[596.4,-92.9],[597.4,-100.1],[598.4,-95.6],[599.4,-86.7],
  [600.4,-102.7],[601.4,-97.9],[602.4,-93.2],[603.4,-110.0],[604.4,-99.1],[605.4,-95.8],[606.4,-89.9],[607.4,-104.9],[608.4,-96.4],[609.4,-101.4],
  [610.4,-92.1],[611.4,-98.6],[612.4,-84.9],[613.4,-103.7],[614.4,-97.5],[615.4,-94.1],[616.4,-100.9],[617.4,-108.1],[618.4,-91.4],[619.4,-99.3],
  [620.4,-95.5],[621.4,-87.6],[622.4,-102.2],[623.4,-97.0],[624.4,-93.9],[625.4,-106.7],[626.4,-99.7],[627.4,-90.8],[628.4,-96.7],[629.4,-101.8],
  [630.4,-94.9],[631.4,-113.6],[632.4,-98.4],[633.4,-92.5],[634.4,-100.3],[635.4,-86.3],[636.4,-97.7],[637.4,-104.0],[638.4,-95.3],[639.4,-99.0],
  [640.4,-91.7],[641.4,-105.2],[642.4,-96.9],[643.4,-100.6],[644.4,-88.5],[645.4,-98.0],[646.4,-93.5],[647.4,-109.6],[648.4,-101.1],[649.4,-95.1],
  [650.4,-97.4],[651.4,-90.4],[652.4,-103.9],[653.4,-99.5],[654.4,-94.3],[655.4,-82.8],[656.4,-100.0],[657.4,-96.2],[658.4,-106.5],[659.4,-92.3],
  [660.4,-98.8],[661.4,-102.0],[662.4,-95.8],[663.4,-89.7],[664.4,-101.5],[665.4,-97.1],[666.4,-111.7],[667.4,-93.7],[668.4,-99.6],[669.4,-96.0],
  [670.4,-87.9],[671.4,-104.6],[672.4,-98.2],[673.4,-94.0],[674.4,-100.4],[675.4,-107.3],[676.4,-95.4],[677.4,-91.3],[678.4,-102.9],[679.4,-97.8],
  [680.4,-99.1],[681.4,-85.5],[682.4,-103.4],[683.4,-96.6],[684.4,-93.3],[685.4,-100.8],[686.4,-109.8],[687.4,-97.5],[688.4,-92.7],[689.4,-101.7],
  [690.4,-95.0],[691.4,-98.9],[692.4,-88.2],[693.4,-104.3],[694.4,-99.8],[695.4,-96.3],[696.4,-102.5],[697.4,-91.6],[698.4,-114.7],[699.4,-98.0]];

const shadow700to1000 = [[700,-68.7],[701,-99.1],[702,-92.4],[703,-105.7],[704,-95.5],[705,-88.6],[706,-101.8],[707,-97.0],[708,-84.1],[709,-103.9],
  [710,-94.8],[711,-110.3],[712,-98.4],[713,-91.0],[714,-100.6],[715,-96.1],[716,-86.8],[717,-107.0],[718,-93.7],[719,-99.8],
  [720,-102.5],[721,-89.4],[722,-97.9],[723,-112.8],[724,-95.0],[725,-80.6],[726,-101.3],[727,-94.1],[728,-98.9],[729,-90.8],
  [730,-104.4],[731,-96.7],[732,-87.3],[733,-100.2],[734,-108.6],[735,-93.3],[736,-99.5],[737,-95.8],[738,-83.5],[739,-102.9],
  [740,-97.3],[741,-91.6],[742,-106.1],[743,-94.6],[744,-100.9],[745,-116.4],[746,-88.1],[747,-98.2],[748,-95.3],[749,-103.2],
  [750,-92.1],[751,-99.7],[752,-85.9],[753,-105.3],[754,-96.4],[755,-101.6],[756,-90.5],[757,-97.6],[758,-109.5],[759,-94.0],
  [760,-78.9],[761,-100.5],[762,-96.0],[763,-104.0],[764,-91.9],[765,-98.7],[766,-87.7],[767,-102.2],[768,-113.7],[769,-95.6],
  [770,-99.3],[771,-93.5],[772,-122.5],[773,-101.0],[774,-89.0],[775,-97.1],[776,-105.0],[777,-94.3],[778,-100.8],[780,-71.0],
  [781,-96.9],[782,-107.6],[783,-92.7],[784,-99.0],[785,-86.3],[786,-103.5],[787,-97.8],[788,-93.1],[789,-110.9],[790,-99.6],
  [791,-90.1],[792,-101.9],[793,-96.2],[794,-84.8],[795,-104.7],[796,-98.1],[797,-94.9],[798,-102.7],[799,-91.3],[800,-108.1],
  [801,-97.5],[802,-100.3],[803,-88.3],[804,-95.2],[805,-105.8],[806,-99.4],[807,-93.9],[808,-82.0],[809,-101.4],[810,-96.6],
  [811,-114.6],[812,-92.3],[813,-98.5],[814,-103.0],[815,-89.8],[816,-123.3],[817,-97.0],[818,-100.7],[819,-94.7],[820,-106.8],
  [821,-91.5],[822,-99.9],[823,-96.3],[824,-85.2],[825,-102.4],[826,-98.0],[827,-109.2],[828,-93.2],[829,-100.1],[830,-77.5],
  [831,-97.4],[832,-104.3],[833,-95.4],[834,-90.6],[835,-101.7],[836,-98.8],[837,-111.5],[838,-94.2],[839,-99.2],[840,-87.4],
  [841,-103.8],[842,-96.8],[843,-92.6],[844,-106.5],[845,-100.4],[846,-95.1],[847,-88.9],[848,-102.0],[849,-97.7],[850,-117.9],
  [851,-93.6],[852,-99.5],[853,-104.6],[854,-91.7],[855,-98.3],[856,-83.8],[857,-101.2],[858,-96.5],[859,-108.4],[860,-94.4],
  [861,-100.0],[862,-89.6],[863,-103.1],[864,-97.2],[865,-93.0],[866,-112.2],[867,-99.0],[868,-86.0],[869,-105.4],[870,-96.0],
  [871,-101.5],[872,-92.8],[873,-98.6],[874,-107.3],[875,-95.7],[876,-80.1],[877,-102.6],[878,-99.8],[879,-94.1],[880,-104.9],
  [881,-90.9],[882,-97.9],[883,-115.1],[884,-100.9],[885,-96.3],[886,-88.7],[887,-103.4],[888,-98.2],[889,-93.4],[890,-109.8],
  [891,-101.1],[892,-95.9],[893,-85.5],[894,-99.3],[895,-105.2],[896,-120.3],[897,-92.2],[898,-100.6],[899,-97.5],[900,-91.4],
  [901,-106.0],[902,-98.7],[903,-94.8],[904,-102.8],[905,-87.9],[906,-100.2],[907,-110.6],[908,-96.1],[909,-99.7],[910,-93.8],
  [911,-104.1],[912,-82.9],[913,-101.6],[914,-97.1],[915,-108.9],[916,-95.3],[917,-100.5],[918,-90.3],[919,-103.7],[920,-98.4],
  [921,-113.9],[922,-94.5],[923,-99.4],[924,-88.4],[925,-105.5],[926,-97.6],[927,-101.8],[928,-92.9],[929,-107.7],[930,-96.9],
  [931,-84.4],[932,-102.3],[933,-99.1],[934,-95.0],[935,-111.0],[936,-100.8],[937,-120.0],[938,-91.2],[939,-98.0],[940,-104.5],
  [941,-94.2],[942,-89.2],[943,-101.3],[944,-97.3],[945,-109.1],[946,-93.1],[947,-100.0],[948,-79.8],[949,-103.6],[950,-98.9],
  [951,-95.6],[952,-106.3],[953,-91.8],[954,-102.1],[955,-99.5],[956,-116.8],[957,-94.9],[958,-100.9],[959,-87.2],[960,-72.5],
  [961,-104.2],[962,-97.4],[963,-101.4],[964,-93.5],[965,-108.2],[966,-99.2],[967,-90.4],[968,-103.3],[969,-96.6],[970,-122.2],
  [971,-101.0],[972,-94.0],[973,-106.7],[974,-98.3],[975,-85.8],[976,-102.2],[977,-97.9],[978,-112.3],[979,-95.2],[980,-100.4],
  [981,-91.1],[982,-105.0],[983,-99.0],[984,-94.6],[985,-103.9],[986,-88.0],[987,-110.1],[988,-97.0],[989,-101.2],[990,-93.7],
  [991,-107.4],[992,-99.8],[993,-96.0],[994,-83.2],[995,-104.8],[996,-98.1],[997,-102.6],[998,-92.5],[999,-109.6],[1000,-97.2],
  [700.5,-95.9],[701.5,-103.6],[702.5,-98.0],[703.5,-90.2],[704.5,-101.1],[705.5,-96.8],[706.5,-108.4],[707.5,-93.0],[708.5,-99.9],[709.5,-87.0],
  [710.5,-97.6],[711.5,-104.5],[712.5,-94.9],[713.5,-100.4],[714.5,-91.2],[715.5,-106.9],[716.5,-98.6],[717.5,-95.3],[718.5,-83.9],[719.5,-101.8],
  [720.5,-97.2],[721.5,-110.7],[722.5,-93.8],[723.5,-99.6],[724.5,-89.5],[725.5,-103.1],[726.5,-96.0],[727.5,-100.7],[728.5,-92.3],[729.5,-107.4],
  [730.5,-98.3],[731.5,-94.5],[732.5,-102.0],[733.5,-86.6],[734.5,-99.0],[735.5,-105.6],[736.5,-96.5],[737.5,-91.9],[738.5,-100.9],[739.5,-114.2],
  [740.5,-95.0],[741.5,-98.8],[742.5,-88.8],[743.5,-103.4],[744.5,-97.0],[745.5,-93.2],[746.5,-101.3],[747.5,-108.9],[748.5,-96.2],[749.5,-90.4],
  [750.5,-99.4],[751.5,-104.8],[752.5,-94.7],[753.5,-100.0],[754.5,-85.4],[755.5,-97.8],[756.5,-102.8],[757.5,-93.5],[758.5,-99.1],[759.5,-111.8],
  [760.5,-96.3],[761.5,-91.0],[762.5,-103.9],[763.5,-98.1],[764.5,-94.4],[765.5,-106.2],[766.5,-100.3],[767.5,-89.2],[768.5,-97.4],[769.5,-102.1],
  [770.5,-95.4],[771.5,-117.1],[772.5,-99.7],[773.5,-92.6],[774.5,-100.8],[775.5,-87.8],[776.5,-98.4],[777.5,-104.0],[778.5,-96.1],[779.5,-93.0],
  [780.5,-101.5],[781.5,-109.3],[782.5,-97.1],[783.5,-94.0],[784.5,-99.8],[785.5,-84.5],[786.5,-102.5],[787.5,-96.7],[788.5,-105.1],[789.5,-91.5],
  [790.5,-98.6],[791.5,-103.0],[792.5,-95.1],[793.5,-100.2],[794.5,-112.6],[795.5,-93.7],[796.5,-97.9],[797.5,-88.1],[798.5,-101.0],[799.5,-106.6],
  [800.5,-96.0],[801.5,-99.2],[802.5,-92.0],[803.5,-104.2],[804.5,-98.7],[805.5,-94.6],[806.5,-101.7],[807.5,-86.9],[808.5,-100.0],[809.5,-108.0],
  [810.5,-95.7],[811.5,-98.2],[812.5,-102.9],[813.5,-90.7],[814.5,-97.5],[815.5,-105.4],[816.5,-99.5],[817.5,-93.3],[818.5,-115.6],[819.5,-100.6],
  [820.5,-96.4],[821.5,-88.5],[822.5,-103.3],[823.5,-98.9],[824.5,-94.8],[825.5,-101.2],[826.5,-107.1],[827.5,-97.3],[828.5,-91.8],[829.5,-99.3],
  [830.5,-104.4],[831.5,-95.5],[832.5,-82.4],[833.5,-100.1],[834.5,-98.0],[835.5,-110.4],[836.5,-94.1],[837.5,-102.7],[838.5,-97.7],[839.5,-89.9],
  [840.5,-100.5],[841.5,-96.6],[842.5,-106.4],[843.5,-93.9],[844.5,-99.0],[845.5,-103.5],[846.5,-91.1],[847.5,-98.5],[848.5,-113.0],[849.5,-96.9],
  [850.5,-101.9],[851.5,-87.5],[852.5,-99.6],[853.5,-95.2],[854.5,-104.7],[855.5,-100.9],[856.5,-92.4],[857.5,-97.6],[858.5,-108.7],[859.5,-94.3],
  [860.5,-101.4],[861.5,-98.1],[862.5,-85.0],[863.5,-103.8],[864.5,-96.3],[865.5,-100.3],[866.5,-93.1],[867.5,-106.8],[868.5,-99.4],[869.5,-95.8],
  [870.5,-118.6],[871.5,-97.2],[872.5,-102.4],[873.5,-90.6],[874.5,-99.9],[875.5,-104.1],[876.5,-96.0],[877.5,-93.6],[878.5,-101.0],[879.5,-109.5],
  [880.5,-98.3],[881.5,-88.0],[882.5,-100.7],[883.5,-95.9],[884.5,-103.0],[885.5,-97.0],[886.5,-111.2],[887.5,-94.2],[888.5,-99.8],[889.5,-91.4],
  [890.5,-102.2],[891.5,-96.8],[892.5,-105.7],[893.5,-100.4],[894.5,-86.1],[895.5,-98.0],[896.5,-103.6],[897.5,-94.5],[898.5,-107.9],[899.5,-99.1],
  [900.5,-95.0],[901.5,-101.6],[902.5,-92.7],[903.5,-114.8],[904.5,-97.3],[905.5,-100.8],[906.5,-89.4],[907.5,-104.3],[908.5,-98.6],[909.5,-94.0],
  [910.5,-102.6],[911.5,-108.3],[912.5,-96.5],[913.5,-99.3],[914.5,-91.7],[915.5,-103.2],[916.5,-97.8],[917.5,-84.1],[918.5,-100.1],[919.5,-106.1],
  [920.5,-95.6],[921.5,-101.3],[922.5,-98.4],[923.5,-93.4],[924.5,-110.8],[925.5,-99.7],[926.5,-96.1],[927.5,-103.7],[928.5,-88.6],[929.5,-100.5],
  [930.5,-97.5],[931.5,-105.0],[932.5,-94.4],[933.5,-101.9],[934.5,-116.0],[935.5,-98.2],[936.5,-92.2],[937.5,-100.0],[938.5,-104.6],[939.5,-96.7],
  [940.5,-99.5],[941.5,-87.1],[942.5,-102.3],[943.5,-107.6],[944.5,-95.3],[945.5,-100.9],[946.5,-98.8],[947.5,-91.9],[948.5,-103.4],[949.5,-97.1],
  [950.5,-112.9],[951.5,-99.0],[952.5,-94.8],[953.5,-101.1],[954.5,-85.7],[955.5,-104.9],[956.5,-97.9],[957.5,-100.6],[958.5,-93.8],[959.5,-108.5],
  [960.5,-96.2],[961.5,-102.1],[962.5,-99.2],[963.5,-90.0],[964.5,-105.3],[965.5,-98.5],[966.5,-95.4],[967.5,-101.8],[968.5,-119.4],[969.5,-97.4],
  [970.5,-100.3],[971.5,-92.9],[972.5,-103.1],[973.5,-96.6],[974.5,-106.5],[975.5,-99.4],[976.5,-88.9],[977.5,-101.4],[978.5,-97.0],[979.5,-104.0],
  [980.5,-94.3],[981.5,-109.9],[982.5,-98.1],[983.5,-100.7],[984.5,-91.3],[985.5,-102.8],[986.5,-96.4],[987.5,-105.8],[988.5,-99.6],[989.5,-82.6],
  [990.5,-101.6],[991.5,-97.7],[992.5,-94.1],[993.5,-107.2],[994.5,-100.2],[995.5,-96.0],[996.5,-103.3],[997.5,-90.9],[998.5,-99.9],[999.5,-113.3]];

const shadowing = [shadow1to10, shadow10to20, shadow20to50, shadow50to100, shadow100to200,
  shadow200to300, shadow300to500, shadow500to700, shadow700to1000].flat();

// ---- layout ----
const width = 987, height = 553;
const plot = {left: 57, right: 982, top: 33, bottom: 502};
const font = '"Liberation Sans", Arial, Helvetica, sans-serif';
const axisColor = "#262626";

const x = d3.scaleLog().domain([1, 1000]).range([plot.left, plot.right]);
const y = d3.scaleLinear().domain([-140, 0]).range([plot.bottom, plot.top]);

const svg = d3.select("#chart").append("svg")
    .attr("width", width)
    .attr("height", height);

// grid
const xAll = x.ticks();
const grid = svg.append("g").attr("shape-rendering", "crispEdges");
grid.selectAll(".xgrid")
    .data(xAll.filter(d => d > 1 && d < 1000))
    .join("line")
    .attr("x1", d => x(d)).attr("x2", d => x(d))
    .attr("y1", plot.top).attr("y2", plot.bottom)
    .attr("stroke", d => xTickValues.includes(d) ? "#e2e2e2" : "#d6d6d6")
    .attr("stroke-dasharray", d => xTickValues.includes(d) ? null : "1,2");
grid.selectAll(".ygrid")
    .data(y.ticks(28).filter(d => d > -140 && d < 0))
    .join("line")
    .attr("x1", plot.left).attr("x2", plot.right)
    .attr("y1", d => y(d)).attr("y2", d => y(d))
    .attr("stroke", d => d % 20 === 0 ? "#e2e2e2" : "#d6d6d6")
    .attr("stroke-dasharray", d => d % 20 === 0 ? null : "1,2");

// free space line
const straight = d3.line().x(d => x(d[0])).y(d => y(d[1]));
svg.append("path")
    .datum(freeSpace)
    .attr("d", straight)
    .attr("fill", "none")
    .attr("stroke", "#0000ff")
    .attr("stroke-width", 1.1);

// 2-ray
const smooth = d3.line().x(d => x(d[0])).y(d => y(d[1])).curve(d3.curveMonotoneX);
svg.append("path")
    .datum(twoRay)
    .attr("d", smooth)
    .attr("fill", "none")
    .attr("stroke", "#111")
    .attr("stroke-width", 1.1);

// log normal shadowing dots
svg.append("g")
    .selectAll("circle")
    .data(shadowing)
    .join("circle")
    .attr("cx", d => x(d[0]))
    .attr("cy", d => y(d[1]))
    .attr("r", 1.5)
    .attr("fill", "#EDB120");

// sensitivity
svg.append("path")
    .datum(x.domain().map(d => [d, sensitivityDb]))
    .attr("d", straight)
    .attr("stroke", "#2b2b2b")
    .attr("stroke-width", 2);
svg.append("text")
    .attr("x", x(1) + 3)
    .attr("y", y(sensitivityDb) - 5)
    .attr("font-size", "10.5px")
    .attr("fill", axisColor)
    .text("Sensibilidad");

// axes
const styleAxis = g => g.attr("color", axisColor).attr("font-family", font)
    .call(g => g.select(".domain").attr("stroke-width", 1));

svg.append("g")
    .attr("transform", `translate(0,${plot.bottom})`)
    .call(d3.axisBottom(x).tickValues(xAll).tickSizeInner(-4).tickSizeOuter(0)
        .tickFormat(d => xTickValues.includes(d) ? d : ""))
    .call(styleAxis)
    .call(g => g.selectAll("text")
        .attr("transform", "rotate(-90)")
        .attr("x", -4.5).attr("y", 0).attr("dy", "0.35em")
        .attr("text-anchor", "end")
        .attr("font-size", "9.5px")
        .attr("fill", axisColor));

svg.append("g")
    .attr("transform", `translate(0,${plot.top})`)
    .call(d3.axisTop(x).tickValues(xAll).tickSizeInner(-4).tickSizeOuter(0).tickFormat(""))
    .call(styleAxis);

svg.append("g")
    .attr("transform", `translate(${plot.left},0)`)
    .call(d3.axisLeft(y).tickValues(yTickValues).tickSizeInner(-8).tickSizeOuter(0).tickPadding(5))
    .call(styleAxis)
    .call(g => g.selectAll("text").attr("font-size", "10.5px").attr("fill", axisColor));

svg.append("g")
    .attr("transform", `translate(${plot.right},0)`)
    .call(d3.axisRight(y).tickValues(yTickValues).tickSizeInner(-8).tickSizeOuter(0).tickFormat(""))
    .call(styleAxis);

// titles
svg.append("text")
    .attr("x", (plot.left + plot.right) / 2)
    .attr("y", 25)
    .attr("text-anchor", "middle")
    .attr("font-size", "18.5px")
    .attr("font-weight", "bold")
    .attr("fill", "#000")
    .text("Potencia recibida a 2.4 GHz");

svg.append("text")
    .attr("x", (plot.left + plot.right) / 2)
    .attr("y", 548)
    .attr("text-anchor", "middle")
    .attr("font-size", "16.5px")
    .attr("fill", axisColor)
    .text("Distancia [m]");

svg.append("text")
    .attr("transform", `translate(25,${(plot.top + plot.bottom) / 2 - 2}) rotate(-90)`)
    .attr("text-anchor", "middle")
    .attr("font-size", "16.5px")
    .attr("fill", axisColor)
    .text("Potencia recibida [dBm]");

// legend
const legendItems = [
    {label: "Espacio Libre", kind: "line", color: "#0000ff", width: 1.5},
    {label: "2-ray \u03F5 = 2.5, \u03C1 = 0.02 S/m", kind: "line", color: "#111", width: 1.2},
    {label: "Log Normal Shadowing", kind: "dot", color: "#EDB120"},
    {label: "Sensibilidad", kind: "line", color: "#2b2b2b", width: 2}
];
const legend = svg.append("g").attr("transform", "translate(763.5,40.5)");
legend.append("rect")
    .attr("width", 211).attr("height", 78)
    .attr("fill", "#fff")
    .attr("stroke", "#333")
    .attr("stroke-width", 1);
const rows = legend.selectAll(".row")
    .data(legendItems)
    .join("g")
    .attr("transform", (d, i) => `translate(0,${11.2 + i * 18.9})`);
rows.filter(d => d.kind === "line").append("line")
    .attr("x1", 4).attr("x2", 34)
    .attr("stroke", d => d.color)
    .attr("stroke-width", d => d.width);
rows.filter(d => d.kind === "dot").append("circle")
    .attr("cx", 19).attr("r", 1.4)
    .attr("fill", d => d.color);
rows.append("text")
    .attr("x", 37.5)
    .attr("dy", "0.36em")
    .attr("font-size", "14px")
    .attr("fill", "#000")
    .text(d => d.label);
</script>
</body>
</html>
